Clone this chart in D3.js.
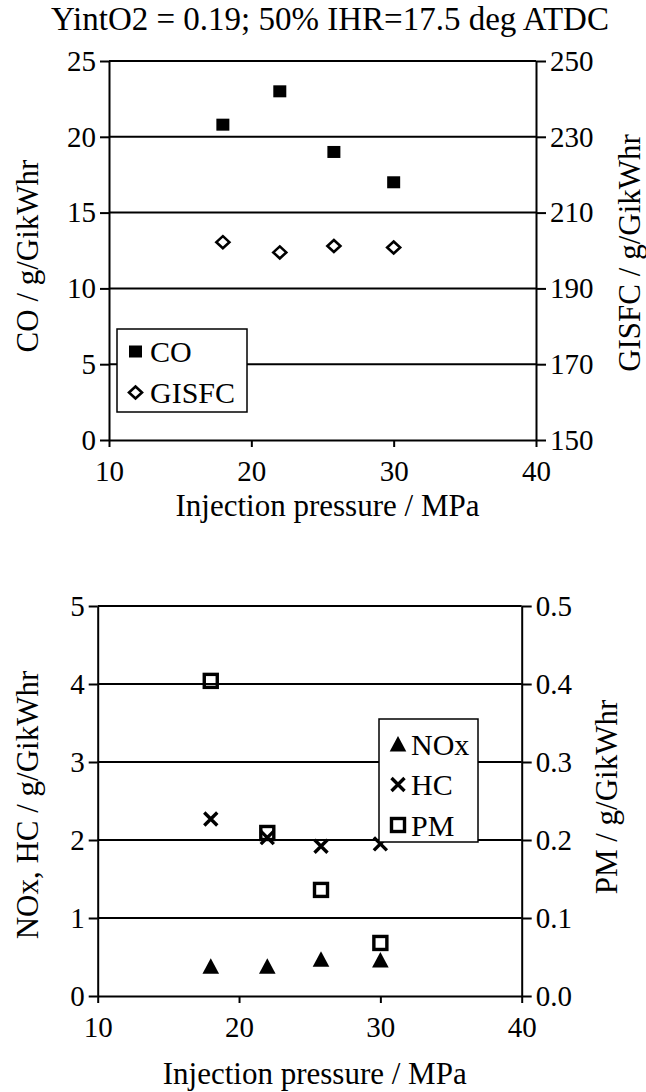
<!DOCTYPE html>
<html>
<head>
<meta charset="utf-8">
<script src="https://cdn.jsdelivr.net/npm/d3@7"></script>
<style>
  html, body { margin: 0; padding: 0; background: #fff; }
  svg { display: block; }
  text { font-family: "Liberation Serif", "Times New Roman", Times, serif; fill: #000; }
</style>
</head>
<body>
<svg id="chart" width="646" height="1092"></svg>
<script>
// Injection pressure sweep (MPa)
const pressure = [18, 22, 25.8, 30];

// Upper panel: CO (left axis) and GISFC (right axis)
const coValues = [20.8, 23.0, 19.0, 17.0];
const gisfcValues = [202.2, 199.5, 201.2, 200.8];

// Lower panel: NOx, HC (left axis) and PM (right axis)
const noxValues = [0.38, 0.38, 0.47, 0.46];
const hcValues = [2.27, 2.03, 1.92, 1.95];
const pmValues = [0.404, 0.209, 0.136, 0.068];

// Tick values
const pressureTicks = [10, 20, 30, 40];
const coTicks = [0, 5, 10, 15, 20, 25];
const gisfcTicks = [150, 170, 190, 210, 230, 250];
const noxHcTicks = [0, 1, 2, 3, 4, 5];
const pmTicks = [0, 0.1, 0.2, 0.3, 0.4, 0.5];

const titleText = "YintO2 = 0.19; 50% IHR=17.5 deg ATDC";
const SERIF = "'Liberation Serif', 'Times New Roman', Times, serif";
const TICK_FONT = 29;
const LABEL_FONT = 31;
const LEGEND_FONT = 30;
const TITLE_FONT = 33;

const svg = d3.select("#chart").attr("font-family", SERIF);

// Marker shapes, centred on (0,0)
const markers = {
  squareFilled: (g) => g.append("rect").attr("x", -6.5).attr("y", -6).attr("width", 13).attr("height", 12)
      .attr("fill", "#000"),
  diamondOpen: (g) => g.append("path").attr("d", "M0,-6 L6.5,0 L0,6 L-6.5,0 Z")
      .attr("fill", "#fff").attr("stroke", "#000").attr("stroke-width", 2.6),
  triangleFilled: (g) => g.append("path").attr("d", "M0,-8 L8.3,7.5 L-8.3,7.5 Z").attr("fill", "#000"),
  cross: (g) => g.append("path").attr("d", "M-6.5,-6.5 L6.5,6.5 M6.5,-6.5 L-6.5,6.5")
      .attr("stroke", "#000").attr("stroke-width", 3.4).attr("fill", "none"),
  squareOpen: (g) => g.append("rect").attr("x", -6.5).attr("y", -6.5).attr("width", 13).attr("height", 13)
      .attr("fill", "none").attr("stroke", "#000").attr("stroke-width", 3.4)
};

function drawPanel(cfg) {
  const x = d3.scaleLinear().domain([10, 40]).range([cfg.left, cfg.right]);
  const yL = d3.scaleLinear().domain(cfg.leftDomain).range([cfg.bottom, cfg.top]);
  const yR = d3.scaleLinear().domain(cfg.rightDomain).range([cfg.bottom, cfg.top]);
  const g = svg.append("g");

  // horizontal gridlines at every left-axis tick
  g.append("g").selectAll("line").data(cfg.leftTicks.slice(1)).join("line")
    .attr("x1", cfg.left).attr("x2", cfg.right)
    .attr("y1", d => yL(d)).attr("y2", d => yL(d))
    .attr("stroke", "#000").attr("stroke-width", 2);

  const styleAxis = (a) => {
    a.attr("font-family", SERIF).attr("font-size", TICK_FONT);
    a.selectAll("path.domain").attr("stroke", "#000").attr("stroke-width", 2);
    a.selectAll(".tick line").attr("stroke", "#000").attr("stroke-width", 2);
    a.selectAll(".tick text").attr("font-size", TICK_FONT).attr("font-family", SERIF).attr("fill", "#000");
  };

  g.append("g").attr("transform", `translate(0,${cfg.bottom})`)
    .call(d3.axisBottom(x).tickValues(pressureTicks).tickFormat(d3.format("d"))
      .tickSize(7).tickSizeOuter(0).tickPadding(13))
    .call(styleAxis);

  g.append("g").attr("transform", `translate(${cfg.left},0)`)
    .call(d3.axisLeft(yL).tickValues(cfg.leftTicks).tickFormat(cfg.leftFormat)
      .tickSize(9).tickSizeOuter(0).tickPadding(4))
    .call(styleAxis);

  g.append("g").attr("transform", `translate(${cfg.right},0)`)
    .call(d3.axisRight(yR).tickValues(cfg.rightTicks).tickFormat(cfg.rightFormat)
      .tickSize(10).tickSizeOuter(0).tickPadding(4))
    .call(styleAxis);

  // axis titles
  g.append("text").attr("x", (cfg.left + cfg.right) / 2 + 5).attr("y", cfg.xTitleY)
    .attr("text-anchor", "middle").attr("font-family", SERIF).attr("font-size", LABEL_FONT)
    .text("Injection pressure / MPa");
  g.append("text").attr("transform", `translate(${cfg.leftTitleX},${cfg.leftTitleY}) rotate(-90)`)
    .attr("text-anchor", "middle").attr("dominant-baseline", "central")
    .attr("font-family", SERIF).attr("font-size", LABEL_FONT).text(cfg.leftTitle);
  g.append("text").attr("transform", `translate(${cfg.rightTitleX},${cfg.rightTitleY}) rotate(-90)`)
    .attr("text-anchor", "middle").attr("dominant-baseline", "central")
    .attr("font-family", SERIF).attr("font-size", LABEL_FONT).text(cfg.rightTitle);

  // data points
  cfg.series.forEach(s => {
    const yScale = s.axis === "right" ? yR : yL;
    g.append("g").selectAll("g").data(s.values).join("g")
      .attr("transform", (d, i) => `translate(${x(pressure[i])},${yScale(d)})`)
      .each(function () { markers[s.marker](d3.select(this)); });
  });

  // legend
  const L = cfg.legend;
  const lg = g.append("g");
  lg.append("rect").attr("x", L.x).attr("y", L.y).attr("width", L.w).attr("height", L.h)
    .attr("fill", "#fff").attr("stroke", "#000").attr("stroke-width", 1.5);
  cfg.series.forEach((s, i) => {
    const cy = L.y + L.firstRow + i * L.rowGap;
    markers[s.marker](lg.append("g").attr("transform", `translate(${L.symX},${cy})`));
    lg.append("text").attr("x", L.textX).attr("y", cy).attr("dominant-baseline", "central")
      .attr("font-family", SERIF).attr("font-size", LEGEND_FONT).text(s.name);
  });
}

// chart title
svg.append("text").attr("x", 330).attr("y", 30).attr("text-anchor", "middle")
  .attr("font-family", SERIF).attr("font-size", TITLE_FONT).text(titleText);

drawPanel({
  left: 109, right: 536, top: 61, bottom: 440,
  leftDomain: [0, 25], rightDomain: [150, 250],
  leftTicks: coTicks, rightTicks: gisfcTicks,
  leftFormat: d3.format("d"), rightFormat: d3.format("d"),
  leftTitle: "CO / g/GikWhr", rightTitle: "GISFC / g/GikWhr",
  leftTitleX: 27, leftTitleY: 256, rightTitleX: 629, rightTitleY: 253,
  xTitleY: 516,
  series: [
    { name: "CO", values: coValues, axis: "left", marker: "squareFilled" },
    { name: "GISFC", values: gisfcValues, axis: "right", marker: "diamondOpen" }
  ],
  legend: { x: 117, y: 329, w: 130, h: 83, firstRow: 22.5, rowGap: 41, symX: 135.5, textX: 150 }
});

drawPanel({
  left: 97.7, right: 521.7, top: 606, bottom: 996,
  leftDomain: [0, 5], rightDomain: [0, 0.5],
  leftTicks: noxHcTicks, rightTicks: pmTicks,
  leftFormat: d3.format("d"), rightFormat: d3.format(".1f"),
  leftTitle: "NOx, HC / g/GikWhr", rightTitle: "PM / g/GikWhr",
  leftTitleX: 27, leftTitleY: 805, rightTitleX: 606, rightTitleY: 797,
  xTitleY: 1084,
  series: [
    { name: "NOx", values: noxValues, axis: "left", marker: "triangleFilled" },
    { name: "HC", values: hcValues, axis: "left", marker: "cross" },
    { name: "PM", values: pmValues, axis: "right", marker: "squareOpen" }
  ],
  legend: { x: 379, y: 719, w: 99, h: 123, firstRow: 25, rowGap: 40.5, symX: 398, textX: 411 }
});
</script>
</body>
</html>
